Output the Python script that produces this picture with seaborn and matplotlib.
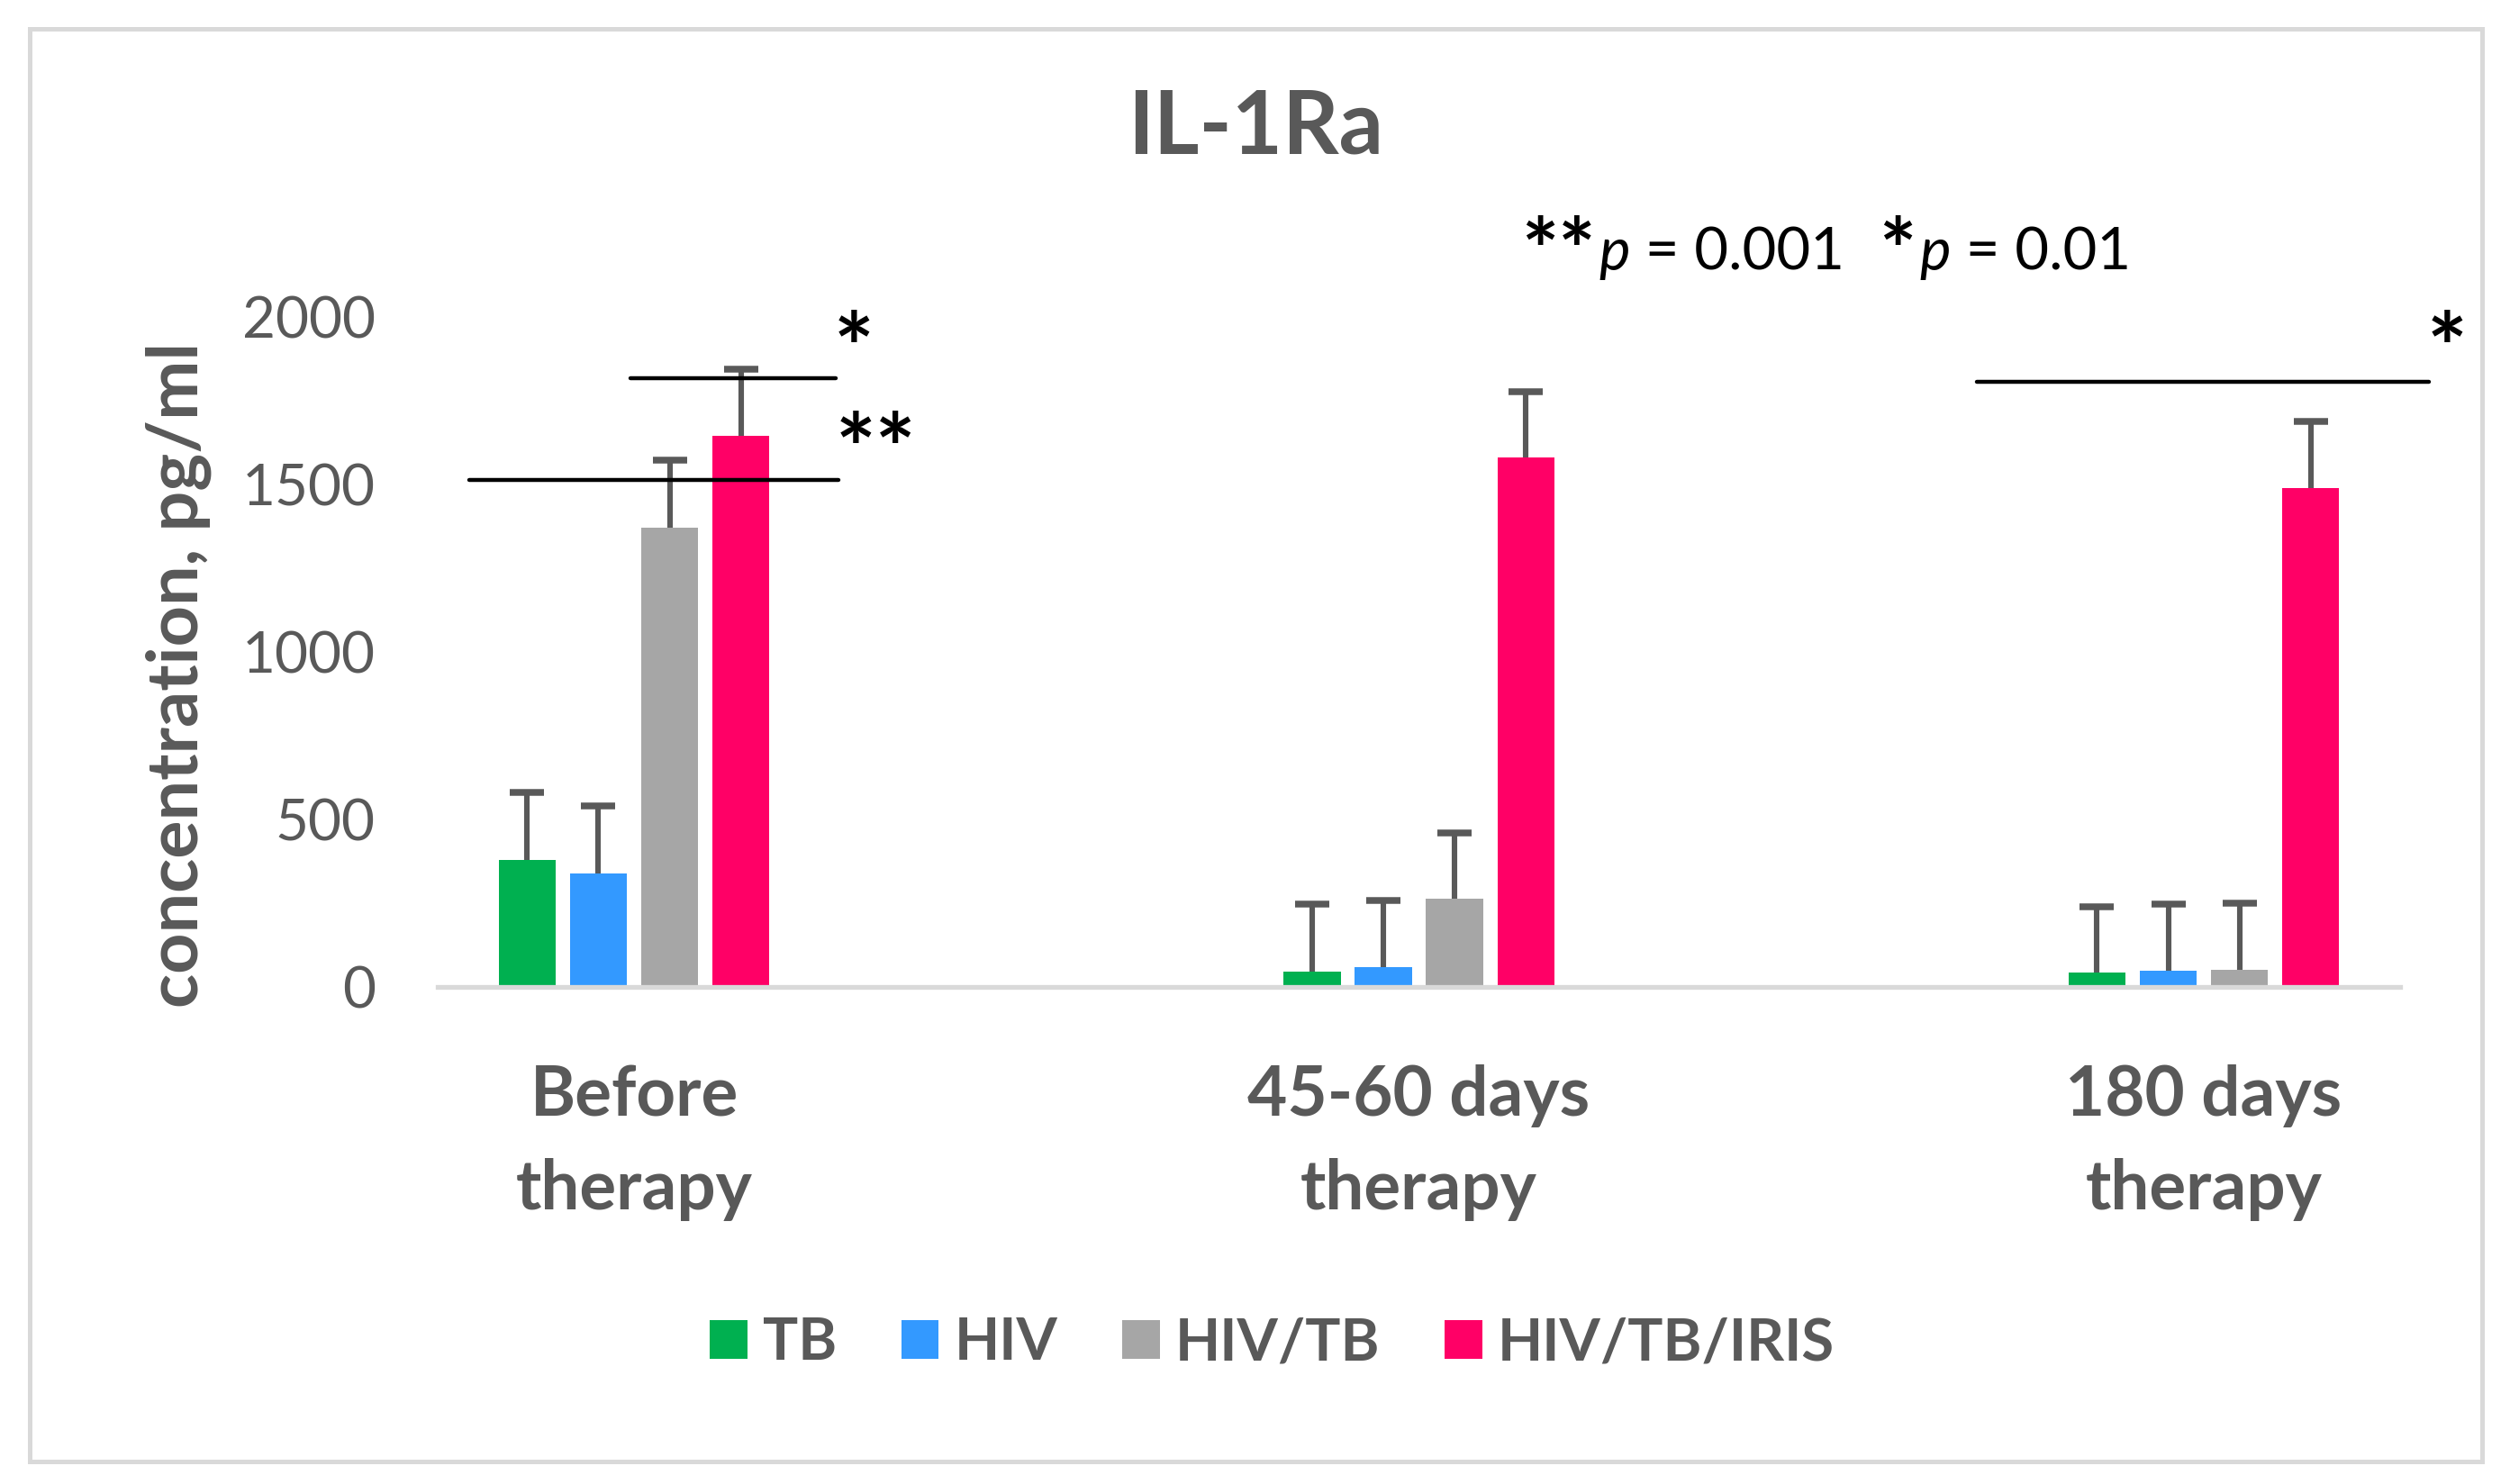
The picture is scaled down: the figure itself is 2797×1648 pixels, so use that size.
import numpy as np
import pandas as pd
import matplotlib
matplotlib.use("Agg")
from matplotlib import pyplot as plt
from matplotlib.patches import Rectangle
import seaborn as sns

# data
periods = ["Before\ntherapy", "45-60 days\ntherapy", "180 days\ntherapy"]
groups = ["TB", "HIV", "HIV/TB", "HIV/TB/IRIS"]
tb_mean = [380, 45, 42]
hiv_mean = [338, 60, 47]
hivtb_mean = [1372, 264, 50]
iris_mean = [1646, 1580, 1490]
tb_err = [202, 202, 198]
hiv_err = [202, 197, 200]
hivtb_err = [200, 197, 199]
iris_err = [200, 197, 198]

# significance brackets (x in category units, y in pg/ml)
sig_x0 = [-0.005, -0.21, 1.711]
sig_x1 = [0.257, 0.261, 2.287]
sig_y = [1817, 1515, 1806]
sig_lab = ["*", "**", "*"]
sig_lab_x = [0.28, 0.308, 2.31]
sig_lab_y = [1808, 1507, 1808]

colors = ["#00B050", "#3399FF", "#A6A6A6", "#FF0066"]
grey = "#595959"

means = [tb_mean, hiv_mean, hivtb_mean, iris_mean]
errs = [tb_err, hiv_err, hivtb_err, iris_err]
rows = []
for g, m in zip(groups, means):
    for p, v in zip(periods, m):
        rows.append({"period": p, "group": g, "value": v})
df = pd.DataFrame(rows)

sns.set_theme(style="white")
plt.rcParams['font.family'] = ['Lato', 'DejaVu Sans']

W, H = 2797, 1648
fig = plt.figure(figsize=(W / 200, H / 200), dpi=200)
ax = fig.add_axes([0.1738, 0.3350, 0.779, 0.4512])

sns.barplot(data=df, x="period", y="value", hue="group", palette=colors,
            width=0.363, gap=0.2, errorbar=None, saturation=1,
            linewidth=0, ax=ax)

# upper error bars only (drop the cap at the bar top)
for cont, e in zip(ax.containers, errs):
    xs = [b.get_x() + b.get_width() / 2 for b in cont]
    ys = [b.get_height() for b in cont]
    eb = ax.errorbar(xs, ys, yerr=[np.zeros(len(e)), e], fmt='none', ecolor=grey,
                     elinewidth=2.2, capsize=7, capthick=2.7, zorder=3)
    for cap in eb.lines[1]:
        if np.allclose(cap.get_ydata(), ys):
            cap.set_visible(False)

for x0, x1, y, lab, lx, ly in zip(sig_x0, sig_x1, sig_y, sig_lab, sig_lab_x, sig_lab_y):
    ax.plot([x0, x1], [y, y], color="black", lw=1.6, clip_on=False, zorder=4)
    ax.text(lx, ly, lab, ha="center", va="baseline", fontsize=38,
            fontweight="bold", color="black")

ax.set_xlim(-0.25, 2.25)
ax.set_ylim(0, 2000)
ax.set_yticks([0, 500, 1000, 1500, 2000])
ax.set_xlabel("")
ax.set_ylabel("")
for s in ["top", "right", "left"]:
    ax.spines[s].set_visible(False)
ax.spines["bottom"].set_color("#D9D9D9")
ax.spines["bottom"].set_linewidth(1.9)
ax.tick_params(axis="y", length=0, pad=25, labelsize=23, labelcolor=grey)
ax.tick_params(axis="x", length=0, pad=31, labelsize=27.5, labelcolor=grey)
for t in ax.get_xticklabels():
    t.set_fontweight("bold")
    t.set_linespacing(1.6)

handles, labels = ax.get_legend_handles_labels()
ax.get_legend().remove()
fig.legend(handles, labels, loc="center", bbox_to_anchor=(0.505, 0.0947), ncol=4,
           frameon=False, prop={"size": 23.5, "weight": "bold"}, labelcolor=grey,
           handlelength=0.64, handleheight=0.64, handletextpad=0.26, columnspacing=1.1)

fig.text(0.4984, 0.8968, "IL-1Ra", ha="center", va="baseline", fontsize=35,
         fontweight="bold", color=grey)

# p-value note, built piece by piece (bigger asterisks, italic p)
renderer = fig.canvas.get_renderer()
pieces = [("**", dict(fontsize=35, fontweight="bold"), -0.008, 4),
          ("p", dict(fontsize=23.5, style="italic"), 0, 0),
          (" = 0.001", dict(fontsize=23.5), 0, 38),
          ("*", dict(fontsize=35, fontweight="bold"), -0.008, 4),
          ("p", dict(fontsize=23.5, style="italic"), 0, 0),
          (" = 0.01", dict(fontsize=23.5), 0, 0)]
xpix = 1689
for s, kw, dy, gap in pieces:
    t = fig.text(xpix / W, 0.818 + dy, s, ha="left", va="baseline", color="black", **kw)
    xpix = t.get_window_extent(renderer).x1 + gap

fig.text(0.0708, 0.545, "concentration, pg/ml", rotation=90, ha="center", va="center",
         fontsize=28.5, fontweight="bold", color=grey)

fig.patches.append(Rectangle((33 / W, 25 / H), 2723 / W, 1591 / H,
                             transform=fig.transFigure, fill=False,
                             edgecolor="#D9D9D9", lw=1.8))

fig.savefig("out.png", dpi=200)
